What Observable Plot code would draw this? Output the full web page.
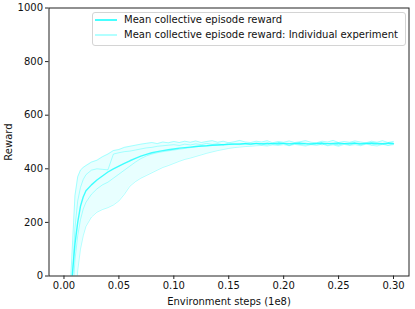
<!DOCTYPE html>
<html><head><meta charset="utf-8">
<script src="https://cdn.jsdelivr.net/npm/d3@7"></script>
<script src="https://cdn.jsdelivr.net/npm/@observablehq/plot@0.6"></script>
<style>
body{margin:0;background:#fff;}
#wrap{position:relative;width:415px;height:309px;font-family:"DejaVu Sans",sans-serif;}
#legend{position:absolute;left:92px;top:12px;width:314px;height:34px;border:1px solid #d4d4d4;border-radius:3px;background:rgba(255,255,255,0.8);box-sizing:border-box;font-size:10px;color:#111;}
.sw{position:absolute;left:2px;width:22px;height:1.5px;}
.lab{position:absolute;left:31px;white-space:nowrap;line-height:12px;}
</style></head>
<body><div id="wrap"></div>
<script>
const steps = [0.001,0.003,0.005,0.0075,0.010,0.0125,0.015,0.0175,
  0.020,0.025,0.030,0.035,0.040,0.045,0.050,0.055,0.060,0.065,
  0.070,0.075,0.080,0.085,0.090,0.095,0.100,0.105,0.110,0.115,
  0.120,0.125,0.130,0.135,0.140,0.145,0.150,0.155,0.160,0.165,
  0.170,0.175,0.180,0.185,0.190,0.195,0.200,0.205,0.210,0.215,
  0.220,0.225,0.230,0.235,0.240,0.245,0.250,0.255,0.260,0.265,
  0.270,0.275,0.280,0.285,0.290,0.295,0.300];
const meanReward = [-700,-400,-180,0,120,200,260,295,
  318,340,358,373,388,400,410,420,430,439,
  447,454,460,464,468,471,474,477,479,481,
  483,485,486,488,489,490,491,492,493,494,
  493,495,494,495,494,496,495,494,495,496,
  494,493,495,496,494,495,496,494,495,496,
  494,495,496,495,494,496,495];
const exp1 = [-500,-300,-100,100,300,370,395,405,
  412,425,432,445,455,468,472,480,484,488,
  492,495,498,494,500,497,502,498,503,499,
  504,498,502,505,499,503,497,501,506,500,
  498,503,500,505,497,502,499,504,498,501,
  505,499,497,503,500,506,498,502,499,504,
  500,497,503,499,505,498,502];
const exp2 = [-600,-400,-200,-20,180,280,330,360,
  378,395,400,398,396,455,460,464,466,470,
  474,478,480,484,486,488,490,487,492,489,
  493,490,495,491,494,489,496,492,490,495,
  491,494,489,496,492,490,495,488,493,491,
  496,490,494,489,495,492,488,494,491,496,
  489,493,495,490,494,488,493];
const exp3 = [-900,-600,-350,-100,60,150,210,250,
  275,305,325,340,350,365,380,395,410,425,
  438,448,455,460,464,467,470,473,476,479,
  482,484,486,488,489,491,490,493,491,494,
  490,495,492,489,496,491,494,488,495,492,
  489,494,491,496,488,493,490,495,489,494,
  491,496,489,493,490,495,492];
const exp4 = [-1200,-900,-600,-350,-150,20,100,150,
  185,220,238,248,255,265,280,305,335,352,
  365,375,385,395,405,412,420,428,435,440,
  446,452,458,463,468,472,476,479,481,483,
  484,486,487,485,489,487,490,486,491,488,
  485,490,487,492,486,489,484,491,487,490,
  486,492,488,485,491,487,490];
const xTicks = [0,0.05,0.10,0.15,0.20,0.25,0.30];
const yTicks = [0,200,400,600,800,1000];
const legendLabels = ["Mean collective episode reward","Mean collective episode reward: Individual experiment"];

const experiments = [exp1, exp2, exp3, exp4];
const expRows = experiments.flatMap((e, k) => steps.map((s, i) => ({x: s, y: e[i], run: k})));
const bandRows = steps.map((s, i) => ({x: s, lo: d3.min(experiments, e => e[i]), hi: d3.max(experiments, e => e[i])}));
const meanRows = steps.map((s, i) => ({x: s, y: meanReward[i]}));

const col = "#00ffff";
const plot = Plot.plot({
  width: 415, height: 309,
  marginLeft: 48.5, marginRight: 6.5, marginTop: 7.5, marginBottom: 33.5,
  style: {fontFamily: "DejaVu Sans, sans-serif", fontSize: "10px", color: "#111", background: "#fff"},
  x: {domain: [-0.01364, 0.3141]},
  y: {domain: [0, 1000]},
  marks: [
    Plot.areaY(bandRows, {x: "x", y1: "lo", y2: "hi", fill: col, fillOpacity: 0.09, clip: true}),
    Plot.line(expRows, {x: "x", y: "y", z: "run", stroke: col, strokeOpacity: 0.3, strokeWidth: 1, clip: true}),
    Plot.line(meanRows, {x: "x", y: "y", stroke: col, strokeOpacity: 0.72, strokeWidth: 1.4, clip: true}),
    Plot.frame({stroke: "#222", strokeWidth: 1}),
    Plot.axisX({ticks: xTicks, tickFormat: d3.format(".2f"), tickSize: 3.5, tickPadding: 2.5, stroke: "#222",
      label: "Environment steps (1e8)", labelAnchor: "center", labelArrow: "none", labelOffset: 29}),
    Plot.axisY({ticks: yTicks, tickFormat: d => String(d), tickSize: 3.5, tickPadding: 2.5, stroke: "#222",
      label: "Reward", labelAnchor: "center", labelArrow: "none", labelOffset: 44})
  ]
});
const wrap = document.getElementById("wrap");
wrap.appendChild(plot);
const leg = document.createElement("div");
leg.id = "legend";
const opac = [0.72, 0.3];
legendLabels.forEach((t, i) => {
  const c = 7 + i * 15;
  const sw = document.createElement("div");
  sw.className = "sw";
  sw.style.top = (c - 0.75) + "px";
  sw.style.background = col;
  sw.style.opacity = opac[i];
  leg.appendChild(sw);
  const lab = document.createElement("div");
  lab.className = "lab";
  lab.style.top = (c - 6) + "px";
  lab.textContent = t;
  leg.appendChild(lab);
});
wrap.appendChild(leg);
</script>
</body></html>
